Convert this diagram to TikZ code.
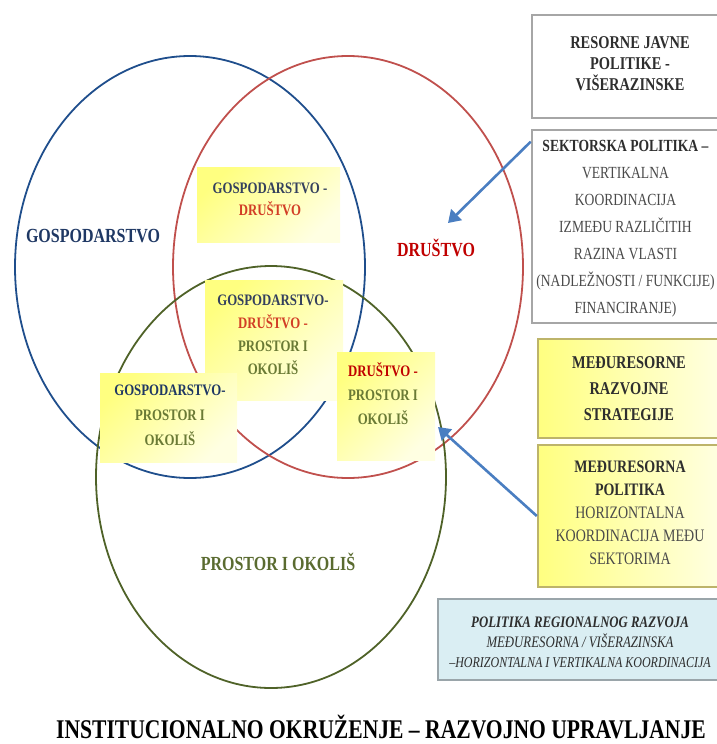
\documentclass[tikz,border=0pt]{standalone}
\usepackage{fontspec}
\setmainfont{Liberation Serif}[FakeStretch=0.8]
\usetikzlibrary{arrows.meta}
\definecolor{gospring}{HTML}{1F4E8C}
\definecolor{druring}{HTML}{C0504D}
\definecolor{prosring}{HTML}{4F6228}
\definecolor{gosptext}{HTML}{1F3864}
\definecolor{drutext}{HTML}{C00000}
\definecolor{prostext}{HTML}{5A6B30}
\definecolor{boxgosp}{HTML}{34405E}
\definecolor{boxdru}{HTML}{D23E26}
\definecolor{boxpros}{HTML}{6A7A35}
\definecolor{venyellow}{HTML}{FFFF80}
\definecolor{venpale}{HTML}{FFFFE2}
\definecolor{frame}{HTML}{A6A6A6}
\definecolor{khaki}{HTML}{BDB46A}
\definecolor{paleblue}{HTML}{DAEEF3}
\definecolor{blueframe}{HTML}{9AA5AA}
\definecolor{pointer}{HTML}{4A7EC1}
\definecolor{inkgray}{HTML}{2E2E2E}
\definecolor{softgray}{HTML}{4A4A4A}
\begin{document}
\begin{tikzpicture}[x=1pt,y=-1pt,
    ring/.style={line width=1.8pt},
    overlap/.style={shade, top color=venyellow, bottom color=venpale,
      shading angle=45, inner sep=0pt},
    policy/.style={draw=frame, line width=2.6pt, fill=white, inner sep=0pt},
    strategy/.style={draw=khaki, line width=2.4pt, shade, top color=venyellow,
      bottom color=venpale, shading angle=90, inner sep=0pt},
    regional/.style={draw=blueframe, line width=2.4pt, fill=paleblue, inner sep=0pt},
    label/.style={font=\bfseries\fontsize{20}{24}\selectfont},
    lines/.style={align=center, inner sep=0pt, font=\bfseries\fontsize{16}{#1}\selectfont},
    rlines/.style={align=center, inner sep=0pt, font=\fontsize{17}{#1}\selectfont},
    rbold/.style={align=center, inner sep=0pt, font=\bfseries\fontsize{18}{#1}\selectfont},
    link/.style={draw=pointer, line width=2.6pt, -{Triangle[width=15pt,length=12pt]}}]
  \useasboundingbox (0,0) rectangle (716,744);
  % three spheres
  \draw[ring, gospring] (190,267) ellipse [x radius=175pt, y radius=211pt];
  \draw[ring, druring] (348,267) ellipse [x radius=175pt, y radius=211pt];
  \draw[ring, prosring] (271,477) ellipse [x radius=175pt, y radius=211pt];
  % overlaps
  \node[overlap, minimum width=143pt, minimum height=75pt] (gdbox) at (268.5,204.5) {};
  \node[overlap, minimum width=138pt, minimum height=120pt] (gdpbox) at (274,340) {};
  \node[overlap, minimum width=137pt, minimum height=89pt] (gpbox) at (168.5,417.5) {};
  \node[overlap, minimum width=98pt, minimum height=108pt] (dpbox) at (386,406) {};
  \node[lines=22] (gdtext) at (270,199)
    {\textcolor{boxgosp}{GOSPODARSTVO -}\\\textcolor{boxdru}{DRUŠTVO}};
  \node[lines=23] (gdptext) at (273,335)
    {\textcolor{boxgosp}{GOSPODARSTVO-}\\\textcolor{boxdru}{DRUŠTVO -}\\
     \textcolor{boxpros}{PROSTOR I}\\\textcolor{boxpros}{OKOLIŠ}};
  \node[lines=25] (gptext) at (170,415)
    {\textcolor{gosptext}{GOSPODARSTVO-}\\\textcolor{boxpros}{PROSTOR I}\\
     \textcolor{boxpros}{OKOLIŠ}};
  \node[lines=24] (dptext) at (383,394)
    {\textcolor{drutext}{DRUŠTVO -}\\\textcolor{boxpros}{PROSTOR I}\\
     \textcolor{boxpros}{OKOLIŠ}};
  % sphere names
  \node[label, gosptext] (gosp) at (93,236) {GOSPODARSTVO};
  \node[label, drutext] (dru) at (436,248) {DRUŠTVO};
  \node[label, prostext] (pros) at (278,562) {PROSTOR I OKOLIŠ};
  % policy boxes
  \node[policy, minimum width=190pt, minimum height=103pt] (resor) at (627,66.5) {};
  \node[policy, minimum width=190pt, minimum height=193pt] (sektor) at (627,226.5) {};
  \node[strategy, minimum width=184pt, minimum height=99pt] (medstrat) at (630,388.5) {};
  \node[strategy, minimum width=184pt, minimum height=142pt] (medpol) at (630,516) {};
  \node[regional, minimum width=284pt, minimum height=81pt] (regio) at (580,639.5) {};
  \node[rbold=21, inkgray] (resortext) at (630,64)
    {RESORNE JAVNE\\POLITIKE -\\VIŠERAZINSKE};
  \node[rlines=27, softgray] (sektortext) at (625.5,228.5)
    {\textbf{\textcolor{inkgray}{SEKTORSKA POLITIKA –}}\\VERTIKALNA\\KOORDINACIJA\\
     IZMEĐU RAZLIČITIH\\RAZINA VLASTI\\(NADLEŽNOSTI / FUNKCIJE)\\FINANCIRANJE)};
  \node[rbold=26, inkgray] (medstrattext) at (629,389)
    {MEĐURESORNE\\RAZVOJNE\\STRATEGIJE};
  \node[rlines=23, font=\fontsize{17.5}{23}\selectfont, softgray] (medpoltext) at (630,512.5)
    {\textbf{\textcolor{inkgray}{MEĐURESORNA}}\\\textbf{\textcolor{inkgray}{POLITIKA}}\\
     HORIZONTALNA\\KOORDINACIJA MEĐU\\SEKTORIMA};
  \node[align=center, inner sep=0pt, font=\itshape\fontsize{15}{20}\selectfont, inkgray]
    (regiotext) at (580,642)
    {{\fontsize{16}{20}\selectfont\bfseries POLITIKA REGIONALNOG RAZVOJA}\\
     {\fontsize{16}{20}\selectfont MEĐURESORNA / VIŠERAZINSKA}\\
     –HORIZONTALNA I VERTIKALNA KOORDINACIJA};
  % arrows into the spheres
  \coordinate (sektortip) at (448,223);
  \coordinate (medpoltip) at (438,427);
  \draw[link] ([yshift=-13pt]sektor.north west) -- (sektortip);
  \draw[link] (medpol.west) -- (medpoltip);
  % caption
  \node[font=\bfseries\fontsize{27}{30}\selectfont] (caption) at (381,727)
    {INSTITUCIONALNO OKRUŽENJE – RAZVOJNO UPRAVLJANJE};
\end{tikzpicture}
\end{document}
